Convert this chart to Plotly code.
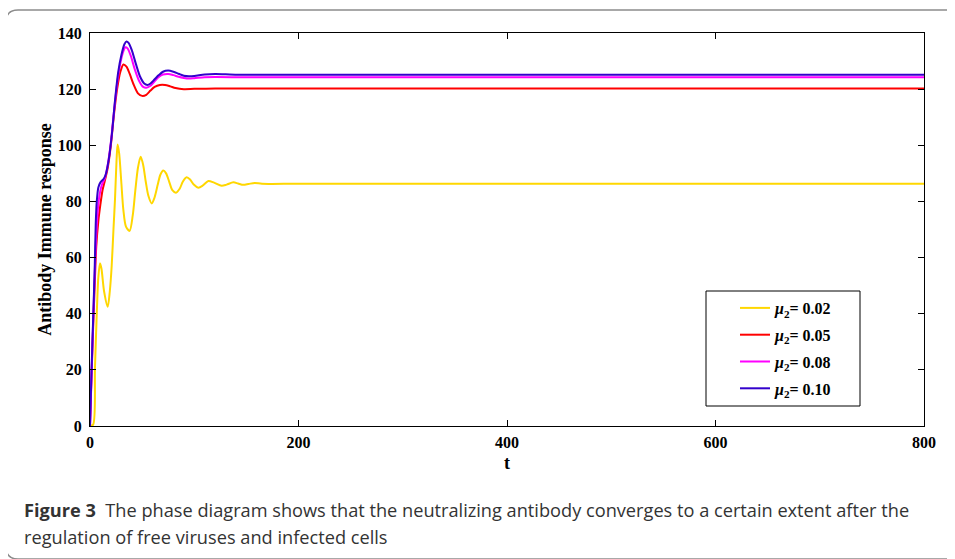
import plotly.graph_objects as go

# ---- data ----
t_y = [0, 3, 4.8, 6.4, 8, 9.6, 11, 13.5, 17, 19, 20.8, 22.5, 24, 25.5, 26.5, 28, 30, 32, 34.5, 38,
       41, 43.5, 46, 48.6, 51, 53.5, 56, 59.2, 62, 65, 67.5, 70.3, 73, 76, 79, 82.5, 86, 89, 92.7,
       96, 99.5, 103.9, 108, 113.5, 119, 126.3, 131, 137.5, 142, 147, 152, 158, 165, 200, 400, 600, 800]
v_y = [0, 0.5, 21, 39, 53, 58, 56, 48, 42.5, 48, 57, 70, 81, 95, 100.3, 97, 87, 77, 71, 69.5,
       75, 84, 92, 95.9, 93, 87, 82, 79.3, 81.5, 86, 89.5, 91, 90, 87, 84, 83.1, 84.5, 87, 88.6,
       87.8, 86, 84.9, 85.6, 87.3, 86.7, 85.6, 86, 86.8, 86.4, 85.9, 86.2, 86.6, 86.3, 86.3, 86.3, 86.3, 86.3]

t_r = [0, 1.5, 3, 4.5, 6, 8, 10, 12, 14, 17, 20, 23, 26, 29, 32, 35, 38, 42, 46, 50, 54, 58, 62, 67,
       72, 77, 82, 90, 100, 120, 150, 200, 400, 600, 800]
v_r = [0, 18, 35, 50, 64, 73, 79, 84, 87, 92, 100, 111, 120, 126, 128.8, 128, 125.5, 121.5, 118.5,
       117.6, 118, 119.5, 120.8, 121.5, 121.5, 121, 120.4, 120, 120.1, 120.2, 120.2, 120.2, 120.2, 120.2, 120.2]

t_m = [0, 1.5, 3, 4.5, 6, 8, 10, 12, 14, 17, 20, 23, 26, 29, 32, 34, 36, 39, 43, 47, 51, 54, 58, 62,
       66, 70, 75, 80, 85, 90, 95, 100, 110, 120, 150, 200, 400, 600, 800]
v_m = [0, 19, 37, 54, 68, 79, 84, 86.5, 88, 93, 101, 112, 122, 129, 133.5, 134.9, 134.5, 132, 127,
       123, 120.8, 120.5, 121.2, 122.8, 124.3, 125.2, 125.4, 125, 124.4, 124, 123.8, 123.9, 124.2,
       124.3, 124.2, 124.2, 124.2, 124.2, 124.2]

t_b = [0, 1.5, 3, 4.5, 5.5, 6.5, 8, 10, 13, 15, 18, 21, 24, 27, 30, 33, 35, 37, 40, 44, 48, 52, 55,
       58, 62, 66, 70, 75, 80, 85, 90, 95, 100, 110, 120, 130, 150, 200, 400, 600, 800]
v_b = [0, 20, 38, 56, 72, 80, 85, 86.8, 88, 89.5, 95, 104, 116, 126, 132, 136, 137, 136.5, 134, 129,
       124.5, 122, 121.5, 122, 123.5, 125, 126.2, 126.6, 126.2, 125.5, 124.8, 124.6, 124.7, 125.2,
       125.4, 125.3, 125.1, 125.1, 125.1, 125.1, 125.1]

labels = ["0.02", "0.05", "0.08", "0.10"]
colors = ["#FFD700", "#FF0000", "#FF00FF", "#3300CC"]
series = [(t_y, v_y), (t_r, v_r), (t_m, v_m), (t_b, v_b)]

x_ticks = [0, 200, 400, 600, 800]
y_ticks = [0, 20, 40, 60, 80, 100, 120, 140]

# ---- layout geometry (screen pixels; page body has an 8px margin) ----
OFF = 8
W, H = 955 - OFF, 559 - OFF
L, R, T, B = 90 - OFF, 924 - OFF, 33 - OFF, 426 - OFF


def px(X):
    return (X - OFF - L) / (R - L)


def py(Y):
    return (B - (Y - OFF)) / (B - T)


fig = go.Figure()
for (tt, vv), lab, col in zip(series, labels, colors):
    fig.add_trace(go.Scatter(
        x=tt, y=vv, mode="lines", line=dict(color=col, width=2, shape="spline", smoothing=0.8),
        name="<i>μ</i><sub>2</sub>= " + lab, legendgroup=lab,
    ))

serif = "Liberation Serif"
bold16 = dict(family=serif, size=16, color="black", weight="bold")
bold18 = dict(family=serif, size=18, color="black", weight="bold")
fig.update_layout(
    width=W, height=H,
    margin=dict(l=L, r=W - R, t=T, b=H - B),
    paper_bgcolor="white", plot_bgcolor="white",
    font=dict(family=serif, size=16, color="black"),
    showlegend=True,
    legend=dict(
        x=px(735), y=py(291), xanchor="left", yanchor="top",
        borderwidth=0, bgcolor="rgba(0,0,0,0)",
        font=bold16,
        tracegroupgap=3, itemwidth=30,
    ),
    xaxis=dict(
        range=[0, 800], tickvals=x_ticks,
        ticks="inside", ticklen=6, tickcolor="black", showline=True, linecolor="black",
        linewidth=1, mirror="ticks", showgrid=False, zeroline=False,
        title=dict(text="t", font=bold18, standoff=6),
        tickfont=bold16, ticklabelstandoff=2,
    ),
    yaxis=dict(
        range=[0, 140], tickvals=y_ticks,
        ticks="inside", ticklen=6, tickcolor="black", showline=True, linecolor="black",
        linewidth=1, mirror="ticks", showgrid=False, zeroline=False,
        title=dict(text="Antibody Immune response", font=bold18, standoff=1),
        tickfont=bold16, ticklabelstandoff=4,
    ),
)

# legend box
fig.add_shape(type="rect", xref="paper", yref="paper",
              x0=px(706), x1=px(860), y0=py(406), y1=py(291),
              line=dict(color="black", width=1), fillcolor="white", layer="above")

# outer rounded frame
path = ("M {a},{b} L {c},{b} Q {d},{b} {d},{e} L {d},{f} Q {d},{g} {c},{g} L {a},{g}").format(
    a=px(965), b=py(10), c=px(18), d=px(6), e=py(22), f=py(547), g=py(559))
fig.add_shape(type="path", path=path, xref="paper", yref="paper",
              line=dict(color="#8c8c8c", width=1.5), layer="below")

cap_font = dict(family="Open Sans", size=18.2, color="#333333")
fig.add_annotation(
    text="<b>Figure 3</b>  The phase diagram shows that the neutralizing antibody converges to a certain extent after the",
    x=px(22), y=py(510), xref="paper", yref="paper", xanchor="left", yanchor="middle",
    showarrow=False, font=cap_font)
fig.add_annotation(
    text="regulation of free viruses and infected cells",
    x=px(22), y=py(537), xref="paper", yref="paper", xanchor="left", yanchor="middle",
    showarrow=False, font=cap_font)

fig.write_html("out.html")
